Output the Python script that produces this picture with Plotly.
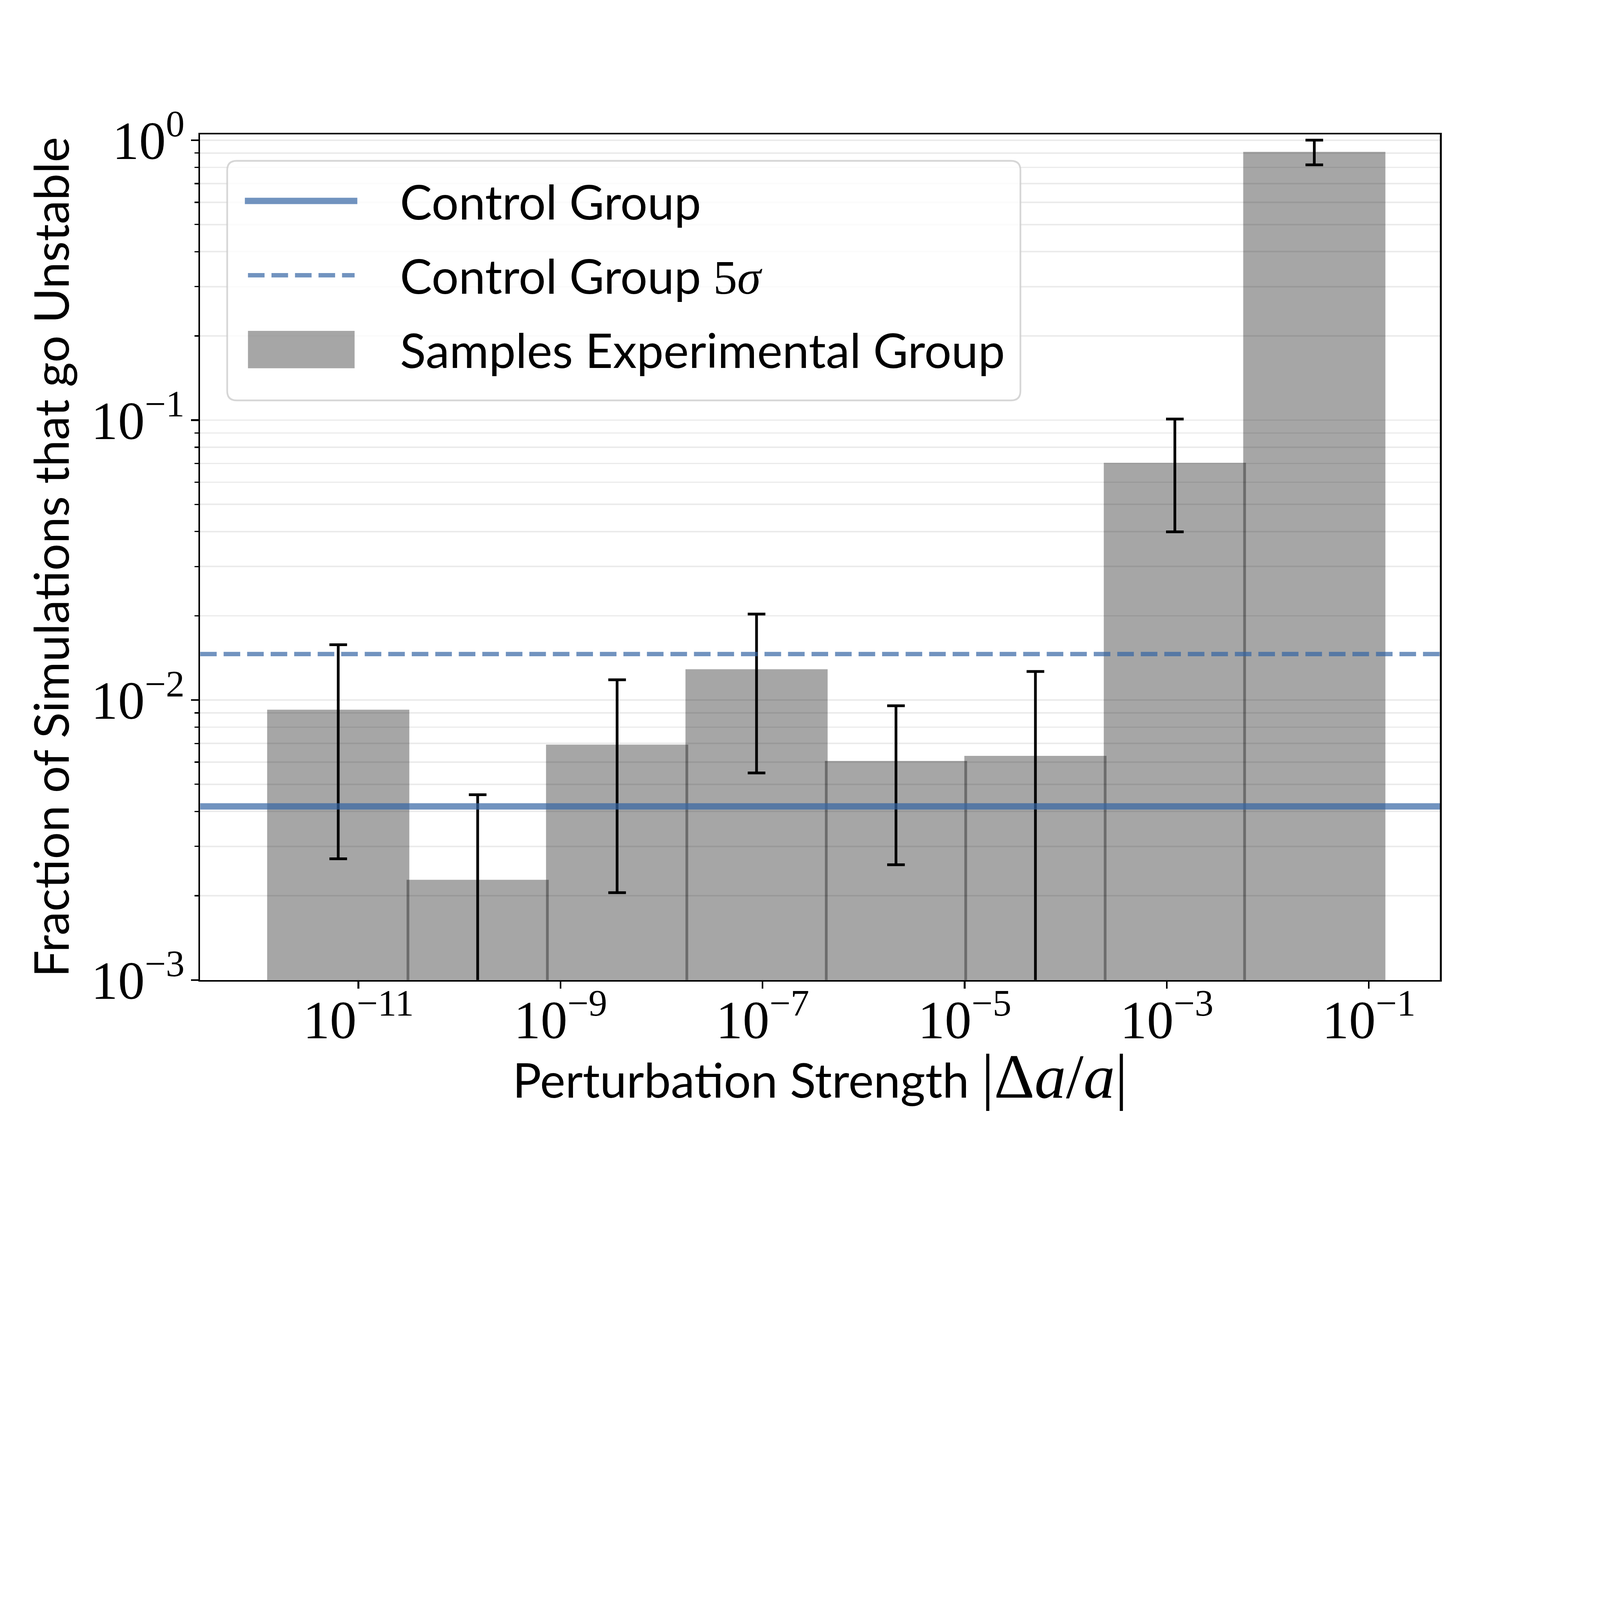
import plotly.graph_objects as go

# ---------------- data ----------------
bin_centers_log10 = [-11.20, -9.82, -8.44, -7.06, -5.68, -4.30, -2.92, -1.54]
fraction_unstable = [0.00924, 0.00228, 0.00693, 0.01289, 0.00606, 0.00632, 0.0704, 0.909]
fraction_error = [0.00653, 0.00231, 0.00488, 0.0074, 0.00348, 0.00633, 0.0305, 0.0918]
control_fraction = 0.00417
control_5sigma = 0.0146

x_tick_exponents = [-11, -9, -7, -5, -3, -1]
x_tick_labels = ["10<sup>\u2212%d</sup>" % (-e) for e in x_tick_exponents]
y_tick_values = [1e-3, 1e-2, 1e-1, 1.0]
y_tick_labels = ["10<sup>\u22123</sup>", "10<sup>\u22122</sup>", "10<sup>\u22121</sup>", "10<sup>0</sup>"]
y_minor_values = [m * 10.0 ** d for d in (-3, -2, -1) for m in range(2, 10)]

legend_labels = [
    "Control Group",
    "Control Group <span style='font-family:Liberation Serif'>5<i>\u03c3</i></span>",
    "Samples Experimental Group",
]
x_title = "Perturbation Strength <span style='font-family:Liberation Serif;font-size:300px'>|\u0394<i>a</i>/<i>a</i>|</span>"
y_title = "Fraction of Simulations that go Unstable"

# ---------------- styling ----------------
FIG_W, FIG_H = 7620, 5334
BAR_WIDTH_DECADES = 1.407
X_RANGE = [-12.567, -0.296]
Y_RANGE_LOG = [-3.0, 0.021]
BAR_COLOR = "rgba(0,0,0,0.35)"
LINE_COLOR = "rgba(52,101,164,0.7)"
GRID_COLOR = "#ebebeb"
SANS = "Lato"
SERIF = "Liberation Serif"
FS = 228
TICK_FS = 255

fig = go.Figure()

fig.add_trace(go.Bar(
    x=bin_centers_log10,
    y=fraction_unstable,
    width=[BAR_WIDTH_DECADES] * len(bin_centers_log10),
    marker=dict(color=BAR_COLOR, line=dict(width=0)),
    error_y=dict(type="data", array=fraction_error, visible=True,
                 color="black", thickness=13, width=42),
    name="Samples Experimental Group",
    showlegend=False,
))

fig.add_trace(go.Scatter(
    x=X_RANGE, y=[control_fraction, control_fraction], mode="lines",
    line=dict(color=LINE_COLOR, width=30), name="Control Group", showlegend=False,
))
fig.add_trace(go.Scatter(
    x=X_RANGE, y=[control_5sigma, control_5sigma], mode="lines",
    line=dict(color=LINE_COLOR, width=21, dash="79px,33px"), name="Control Group 5\u03c3", showlegend=False,
))

# ---------------- hand-drawn legend (matplotlib style) ----------------
bx0, bx1, by0, by1 = 0.02185, 0.6616, 0.6854, 0.9687
rx, ry = 0.0076, 0.0112
box_path = (
    f"M{bx0+rx},{by1} L{bx1-rx},{by1} Q{bx1},{by1} {bx1},{by1-ry} "
    f"L{bx1},{by0+ry} Q{bx1},{by0} {bx1-rx},{by0} "
    f"L{bx0+rx},{by0} Q{bx0},{by0} {bx0},{by0+ry} "
    f"L{bx0},{by1-ry} Q{bx0},{by1} {bx0+rx},{by1} Z"
)
shapes = [
    dict(type="path", path=box_path, xref="paper", yref="paper",
         fillcolor="rgba(255,255,255,0.8)", line=dict(color="rgba(204,204,204,0.8)", width=8),
         layer="above"),
    dict(type="line", xref="paper", yref="paper", x0=0.0361, x1=0.1268, y0=0.9213, y1=0.9213,
         line=dict(color=LINE_COLOR, width=30), layer="above"),
    dict(type="line", xref="paper", yref="paper", x0=0.0386, x1=0.1246, y0=0.8334, y1=0.8334,
         line=dict(color=LINE_COLOR, width=21, dash="79px,33px"), layer="above"),
    dict(type="rect", xref="paper", yref="paper", x0=0.0386, x1=0.1246, y0=0.7234, y1=0.7676,
         fillcolor=BAR_COLOR, line=dict(width=0), layer="above"),
]
legend_rows_y = [0.9213, 0.8334, 0.7455]
annotations = [
    dict(text=lab, xref="paper", yref="paper", x=0.1608, y=yy, xanchor="left", yanchor="middle",
         showarrow=False, font=dict(family=SANS, size=FS, color="black"))
    for lab, yy in zip(legend_labels, legend_rows_y)
]
# x-axis title, placed like matplotlib's xlabel
annotations.append(dict(text=x_title, xref="paper", yref="paper", x=0.5, y=-0.114,
                        xanchor="center", yanchor="middle", showarrow=False,
                        font=dict(family=SANS, size=FS, color="black")))

fig.update_layout(
    width=FIG_W, height=FIG_H,
    margin=dict(l=953, r=762, t=640, b=667),
    paper_bgcolor="white", plot_bgcolor="white",
    shapes=shapes, annotations=annotations,
    showlegend=False,
    font=dict(family=SANS, size=FS, color="black"),
)

fig.update_xaxes(
    range=X_RANGE,
    tickmode="array", tickvals=x_tick_exponents, ticktext=x_tick_labels,
    ticks="outside", ticklen=33, tickwidth=8, tickcolor="black",
    tickfont=dict(family=SERIF, size=TICK_FS, color="black"),
    ticklabelstandoff=-70,
    showline=True, linecolor="black", linewidth=8, mirror=True,
    showgrid=False, zeroline=False,
)
fig.update_yaxes(
    type="log", range=Y_RANGE_LOG,
    tickmode="array", tickvals=y_tick_values, ticktext=y_tick_labels,
    ticks="outside", ticklen=35, tickwidth=8, tickcolor="black",
    tickfont=dict(family=SERIF, size=TICK_FS, color="black"),
    ticklabelstandoff=-20,
    showline=True, linecolor="black", linewidth=8, mirror=True,
    showgrid=True, gridcolor=GRID_COLOR, gridwidth=7, zeroline=False,
    minor=dict(tickmode="array", tickvals=y_minor_values, ticks="outside", ticklen=19,
               tickwidth=6, tickcolor="black", showgrid=True, gridcolor=GRID_COLOR, gridwidth=7),
    title=dict(text=y_title, font=dict(family=SANS, size=FS, color="black"), standoff=30),
)

# keep the whole figure inside the browser window (no-op when the window is full size)
fit_script = """
var gd = document.getElementById('{plot_id}');
document.body.style.margin = '0';
document.documentElement.style.overflow = 'hidden';
var s = Math.min(window.innerWidth / %d, window.innerHeight / %d, 1);
if (s < 1) { gd.style.transformOrigin = '0 0'; gd.style.transform = 'scale(' + s + ')'; }
""" % (FIG_W, FIG_H)

fig.write_html("out.html", post_script=fit_script, config={"displayModeBar": False})
